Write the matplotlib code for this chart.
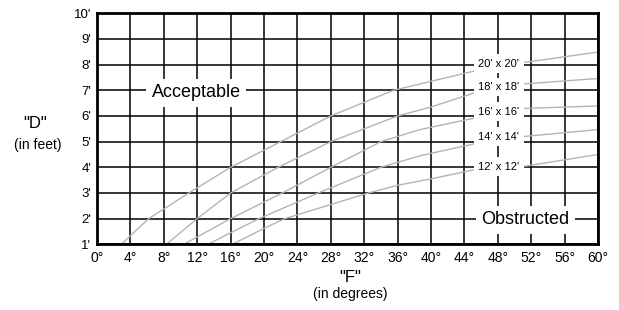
import numpy as np
import matplotlib
matplotlib.use("Agg")
import matplotlib.pyplot as plt

plt.rcParams['font.family'] = ['Liberation Sans', 'DejaVu Sans']

# angle F (degrees) vs distance D (feet) for each room size
f_20 = [2.9, 6.2, 11.0, 16.0, 22.0, 28.0, 35.5, 40.0, 45.2, 50.8, 60.0]
d_20 = [1.0, 2.0, 3.0, 4.0, 5.0, 6.0, 7.0, 7.35, 7.75, 8.07, 8.49]

f_18 = [8.3, 12.0, 16.0, 21.7, 28.0, 36.0, 40.0, 45.3, 50.8, 60.0]
d_18 = [1.0, 2.0, 3.0, 4.0, 5.0, 6.0, 6.35, 6.91, 7.24, 7.46]

f_16 = [10.4, 16.0, 22.2, 28.0, 34.0, 38.7, 45.4, 50.8, 60.0]
d_16 = [1.0, 2.0, 3.0, 4.0, 5.0, 5.47, 5.93, 6.29, 6.39]

f_14 = [13.3, 16.0, 19.4, 26.5, 34.0, 38.7, 45.4, 50.8, 60.0]
d_14 = [1.0, 1.45, 2.0, 3.0, 4.0, 4.45, 4.93, 5.19, 5.47]

f_12 = [16.2, 20.0, 22.5, 28.0, 32.5, 36.0, 40.0, 45.4, 50.8, 60.0]
d_12 = [1.0, 1.62, 2.0, 2.55, 3.0, 3.3, 3.55, 3.92, 4.02, 4.5]

room_labels = ["20' x 20'", "18' x 18'", "16' x 16'", "14' x 14'", "12' x 12'"]
label_f = 48.1
label_d = [8.04, 7.13, 6.16, 5.19, 4.02]

x_ticks = list(range(0, 61, 4))
y_ticks = list(range(1, 11))

fig = plt.figure(figsize=(6.19, 3.10), dpi=100)
ax = fig.add_axes([97 / 619, 1 - 244.3 / 310, 501 / 619, 231 / 310])

curves = [(f_20, d_20), (f_18, d_18), (f_16, d_16), (f_14, d_14), (f_12, d_12)]
for f, d in curves:
    ax.plot(f, d, color='#b4b4b4', lw=1.0, zorder=1)

box = dict(facecolor='white', edgecolor='none', boxstyle='square,pad=0.4')
for lab, y in zip(room_labels, label_d):
    ax.text(label_f, y, lab, fontsize=8, ha='center', va='center',
            bbox=box, zorder=4)

ax.text(11.9, 6.9, "Acceptable", fontsize=13, ha='center', va='center',
        bbox=dict(facecolor='white', edgecolor='none', boxstyle='square,pad=0.3'), zorder=4)
ax.text(51.3, 1.95, "Obstructed", fontsize=13, ha='center', va='center',
        bbox=dict(facecolor='white', edgecolor='none', boxstyle='square,pad=0.3'), zorder=4)

ax.set_xlim(0, 60)
ax.set_ylim(1, 10)
ax.set_xticks(x_ticks)
ax.set_xticklabels([f"{t}°" for t in x_ticks])
ax.set_yticks(y_ticks)
ax.set_yticklabels([f"{t}'" for t in y_ticks])
ax.tick_params(axis='x', length=0, pad=5, labelsize=10)
ax.tick_params(axis='y', length=0, pad=4, labelsize=9.5)
ax.grid(True, color='black', lw=1.1)
ax.set_axisbelow(True)
for s in ax.spines.values():
    s.set_linewidth(2)

fig.text(35 / 619, 1 - 123 / 310, '"D"', fontsize=12, ha='center', va='center')
fig.text(38 / 619, 1 - 145 / 310, '(in feet)', fontsize=10, ha='center', va='center')
fig.text(350 / 619, 1 - 277 / 310, '"F"', fontsize=12, ha='center', va='center')
fig.text(350 / 619, 1 - 294 / 310, '(in degrees)', fontsize=10, ha='center', va='center')

fig.savefig("out.png", dpi=100)
